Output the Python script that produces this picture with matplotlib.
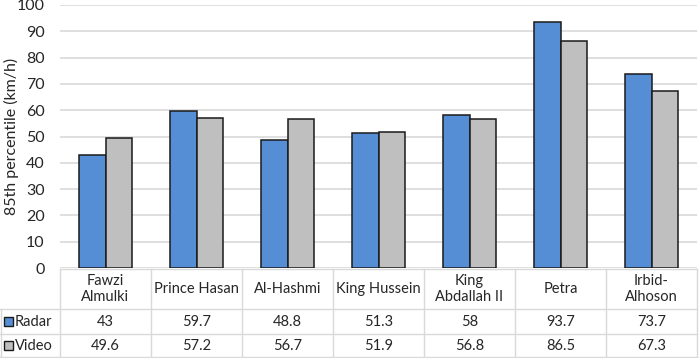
import matplotlib
matplotlib.use("Agg")
import matplotlib.pyplot as plt
from matplotlib.patches import Rectangle
import numpy as np

categories = ["Fawzi\nAlmulki", "Prince Hasan", "Al-Hashmi", "King Hussein",
              "King Abdallah II", "Petra", "Irbid-\nAlhoson"]
header_labels = ["Fawzi\nAlmulki", "Prince Hasan", "Al-Hashmi", "King Hussein",
                 "King\nAbdallah II", "Petra", "Irbid-\nAlhoson"]
radar = [43, 59.7, 48.8, 51.3, 58, 93.7, 73.7]
video = [49.6, 57.2, 56.7, 51.9, 56.8, 86.5, 67.3]
radar_text = ["43", "59.7", "48.8", "51.3", "58", "93.7", "73.7"]
video_text = ["49.6", "57.2", "56.7", "51.9", "56.8", "86.5", "67.3"]
series_names = ["Radar", "Video"]
yticks = [0, 10, 20, 30, 40, 50, 60, 70, 80, 90, 100]

plt.rcParams['font.family'] = ['Lato', 'DejaVu Sans']

W, H = 699, 358
fig = plt.figure(figsize=(W / 100, H / 100), dpi=100)

blue = "#558ED5"
gray = "#BFBFBF"
edge = "#1a1a1a"
grid_c = "#D9D9D9"
txt_c = "#262626"

# main axes
ax_l, ax_r = 60, 697
ax_b, ax_t = 268, 5
ax = fig.add_axes([ax_l / W, (H - ax_b) / H, (ax_r - ax_l) / W, (ax_b - ax_t) / H])
n = len(categories)
x = np.arange(n)
bw = 0.286
ax.bar(x - bw / 2, radar, bw, color=blue, edgecolor=edge, linewidth=1.1, zorder=3)
ax.bar(x + bw / 2, video, bw, color=gray, edgecolor=edge, linewidth=1.1, zorder=3)
ax.set_xlim(-0.5, n - 0.5)
ax.set_ylim(0, 100)
ax.set_yticks(yticks)
ax.tick_params(axis='y', length=0, labelsize=11.5, pad=11, labelcolor=txt_c)
ax.set_xticks([])
for s in ax.spines.values():
    s.set_visible(False)
ax.yaxis.grid(True, color=grid_c, linewidth=1.2, zorder=0)
ax.set_axisbelow(True)
ax.set_ylabel("85th percentile (km/h)", fontsize=11.5, color=txt_c)
ax.yaxis.set_label_coords((19 - ax_l) / (ax_r - ax_l), 0.5)

# table axes
ppu = (ax_r - ax_l) / n
tab = fig.add_axes([0, 0, ax_r / W, (H - ax_b) / H])
tab.set_xlim(-0.5 - ax_l / ppu, n - 0.5)
tab.set_ylim(H, ax_b)
tab.axis('off')

row_y = [ax_b + 1, 309, 334, 357]
lw = 1.0
tab.plot([-0.5, n - 0.5], [row_y[0], row_y[0]], color=grid_c, lw=lw, clip_on=False)
for yy in row_y[1:]:
    tab.plot([-0.5 - ax_l / ppu, n - 0.5], [yy, yy], color=grid_c, lw=lw, clip_on=False)
for k in range(n + 1):
    xx = -0.5 + k
    tab.plot([xx, xx], [row_y[0], row_y[3]], color=grid_c, lw=lw, clip_on=False)
x0 = -0.5 - ax_l / ppu + 0.01
tab.plot([x0, x0], [row_y[1], row_y[3]], color=grid_c, lw=lw, clip_on=False)

fs = 10.5
for i in range(n):
    tab.text(x[i], (row_y[0] + row_y[1]) / 2, header_labels[i], ha='center', va='center',
             fontsize=fs, color=txt_c, linespacing=1.2)
    tab.text(x[i], (row_y[1] + row_y[2]) / 2, radar_text[i], ha='center', va='center',
             fontsize=fs, color=txt_c)
    tab.text(x[i], (row_y[2] + row_y[3]) / 2, video_text[i], ha='center', va='center',
             fontsize=fs, color=txt_c)

key_w = 9 / ppu
for j, (name, col) in enumerate(zip(series_names, [blue, gray])):
    yc = (row_y[j + 1] + row_y[j + 2]) / 2
    kx = -0.5 - ax_l / ppu + 4 / ppu
    tab.add_patch(Rectangle((kx, yc - 4.5), key_w, 9, facecolor=col, edgecolor=edge,
                            linewidth=1.0, clip_on=False))
    tab.text(kx + key_w + 2 / ppu, yc, name, ha='left', va='center', fontsize=fs,
             color=txt_c)

fig.savefig("out.png", dpi=100)
